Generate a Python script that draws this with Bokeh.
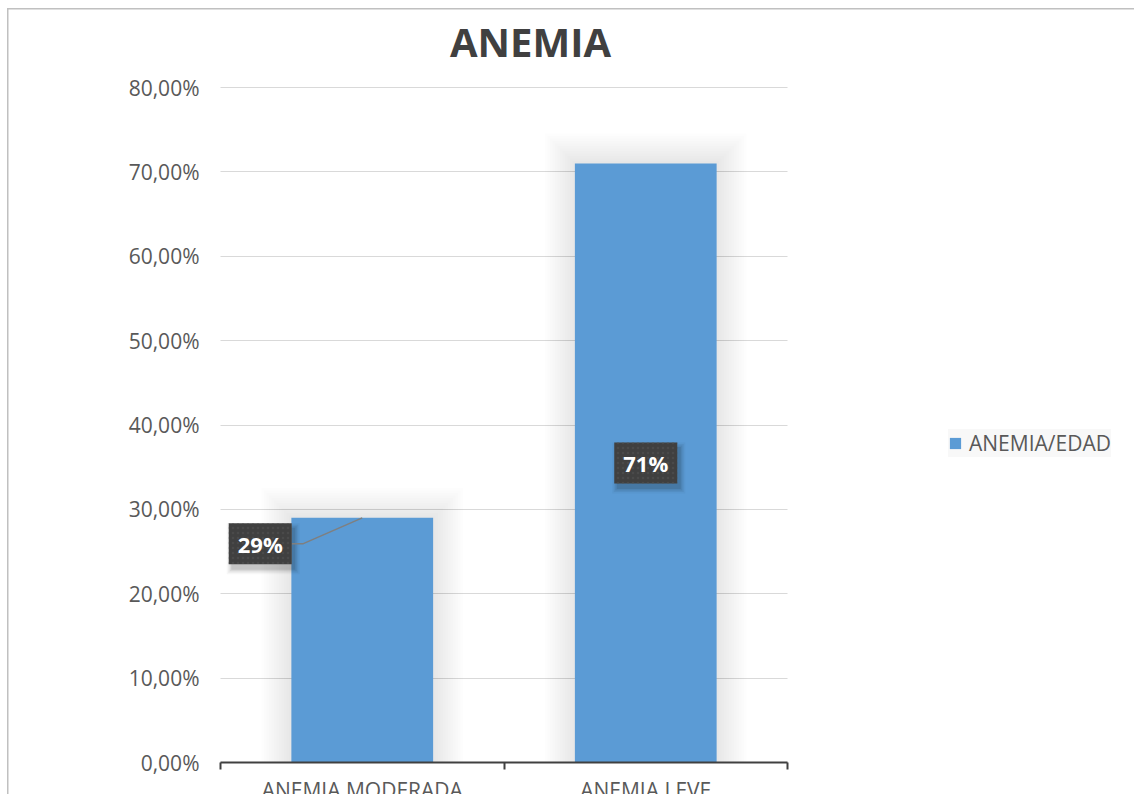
from bokeh.plotting import figure
from bokeh.models import (Range1d, FixedTicker, CustomJSTickFormatter, Legend, LegendItem,
                          Label)
from bokeh.embed import file_html
from bokeh.resources import INLINE

# ---- data -------------------------------------------------------------
title_text = "ANEMIA"
categories = ["ANEMIA MODERADA", "ANEMIA LEVE"]
values = [29, 71]                      # percent
series_name = "ANEMIA/EDAD"
y_ticks = [0, 10, 20, 30, 40, 50, 60, 70, 80]

# ---- layout constants (pixels) ----------------------------------------
W, H = 1134, 794
LEFT, RIGHT_EDGE = 220, 787            # plot-area columns
Y_TOP, Y_ZERO = 87, 762                # rows of the top tick and of zero
FONT = "Open Sans"
BAR_COLOR = "#5b9bd5"
TEXT_COLOR = "#595959"
DARK = "#404040"
GRID = "#d9d9d9"

n = len(categories)
px_x = n / (RIGHT_EDGE - LEFT)                        # data units per pixel (x)
px_y = (y_ticks[-1] - y_ticks[0]) / (Y_ZERO - Y_TOP)  # data units per pixel (y)
centers = [i + 0.5 for i in range(n)]
bar_w = 0.5

# the frame spans the whole canvas; axes are pinned inside it
p = figure(width=W, height=H,
           x_range=Range1d(-LEFT * px_x, n + (W - RIGHT_EDGE) * px_x),
           y_range=Range1d(y_ticks[0] - (H - Y_ZERO) * px_y,
                           y_ticks[-1] + Y_TOP * px_y),
           output_backend="svg", toolbar_location=None,
           min_border=0, min_border_left=0, min_border_right=0,
           min_border_top=0, min_border_bottom=0)
p.outline_line_color = None
p.background_fill_alpha = 0
p.border_fill_alpha = 0
# thin grey chart-area border along the top and left edges
p.styles = {"background-color": "white",
            "box-shadow": "inset 7px 8px 0 0 white, inset 8.5px 9.5px 0 0 #c0c0c0"}

# ---- grid / axes ------------------------------------------------------
p.xgrid.grid_line_color = None
if "cross_bounds" in p.ygrid.properties():
    p.ygrid.ticker = FixedTicker(ticks=y_ticks)
    p.ygrid.cross_bounds = (0, n)
    p.ygrid.grid_line_color = GRID
    p.ygrid.grid_line_width = 1
else:
    p.ygrid.grid_line_color = None
    p.segment(x0=[0] * len(y_ticks), x1=[n] * len(y_ticks), y0=y_ticks, y1=y_ticks,
              line_color=GRID, line_width=1)

ya = p.yaxis[0]
ya.fixed_location = 0
ya.ticker = FixedTicker(ticks=y_ticks)
ya.formatter = CustomJSTickFormatter(code="return tick.toFixed(2).replace('.', ',') + '%';")
ya.axis_line_color = None
ya.major_tick_line_color = None
ya.minor_tick_line_color = None
ya.major_tick_out = 0
ya.major_label_standoff = 21
ya.major_label_text_font = FONT
ya.major_label_text_font_size = "21px"
ya.major_label_text_color = TEXT_COLOR

xa = p.xaxis[0]
xa.fixed_location = 0
xa.bounds = (0, n)
xa.ticker = FixedTicker(ticks=centers, minor_ticks=list(range(n + 1)))
xa.formatter = CustomJSTickFormatter(args=dict(names=categories),
                                     code="return names[Math.floor(tick)];")
xa.axis_line_color = DARK
xa.axis_line_width = 2
xa.major_tick_line_color = None
xa.major_tick_out = 0
xa.minor_tick_line_color = DARK
xa.minor_tick_line_width = 2
xa.minor_tick_in = 0
xa.minor_tick_out = 7
xa.major_label_standoff = 6
xa.major_label_text_font = FONT
xa.major_label_text_font_size = "21px"
xa.major_label_text_color = TEXT_COLOR

# ---- title --------------------------------------------------------------
p.add_layout(Label(x=(530 - LEFT) * px_x, y=y_ticks[-1] + (Y_TOP - 41) * px_y,
                   text=title_text, text_align="center", text_baseline="middle",
                   text_font=FONT, text_font_style="bold", text_font_size="40px",
                   text_color=DARK))

# ---- soft glow behind bars ---------------------------------------------
for k in range(12, 0, -1):
    grow = 2.5 * k
    p.vbar(x=centers, top=[v + grow * px_y for v in values], bottom=0,
           width=bar_w + 2 * grow * px_x, fill_color="black", fill_alpha=0.009,
           line_color=None)

# ---- bars -------------------------------------------------------------
bars = p.vbar(x=centers, top=values, bottom=0, width=bar_w,
              fill_color=BAR_COLOR, line_color=None)

# ---- data labels --------------------------------------------------------
# offsets (px) of each label box centre from the bar centre / default spot
label_dx = [-102, 0]
label_dy = [-26, None]          # None -> middle of the bar
box_w, box_h = 63, 41

lab_x, lab_y = [], []
for c, v, dx, dy in zip(centers, values, label_dx, label_dy):
    lab_x.append(c + dx * px_x)
    lab_y.append(v / 2 if dy is None else v + dy * px_y)

# soft shadow under the boxes
for k, a in [(10, 0.03), (7, 0.05), (4, 0.07), (1, 0.09)]:
    p.rect(x=[x + 3 * px_x for x in lab_x], y=[y - 5 * px_y for y in lab_y],
           width=box_w + k, height=box_h + k, width_units="screen", height_units="screen",
           fill_color="black", fill_alpha=a, line_color=None)

# leader line from the moved label to its bar
for x, y, c, v, dy in zip(lab_x, lab_y, centers, values, label_dy):
    if dy is not None:
        edge = x + (box_w / 2) * px_x
        p.line(x=[edge, edge + 11 * px_x, c], y=[y, y, v],
               line_color="#7f7f7f", line_width=1.5)

p.rect(x=lab_x, y=lab_y, width=box_w, height=box_h,
       width_units="screen", height_units="screen",
       fill_color=DARK, line_color=None,
       hatch_pattern="dot", hatch_color="#505050", hatch_scale=5,
       hatch_weight=1.5, hatch_alpha=0.6)

for x, y, v in zip(lab_x, lab_y, values):
    p.add_layout(Label(x=x, y=y, text=f"{v}%", text_align="center",
                       text_baseline="middle", text_font=FONT,
                       text_font_style="bold", text_font_size="22px",
                       text_color="white"))

# ---- legend -------------------------------------------------------------
legend = Legend(items=[LegendItem(label=series_name, renderers=[bars])],
                location=(948, H - 457),
                label_text_font=FONT, label_text_font_size="21px",
                label_text_color=TEXT_COLOR, glyph_width=14, glyph_height=14,
                label_standoff=7, padding=11, margin=0,
                background_fill_color="#f8f8f8", border_line_color=None)
p.add_layout(legend)

open("out.html", "w").write(file_html(p, INLINE))
